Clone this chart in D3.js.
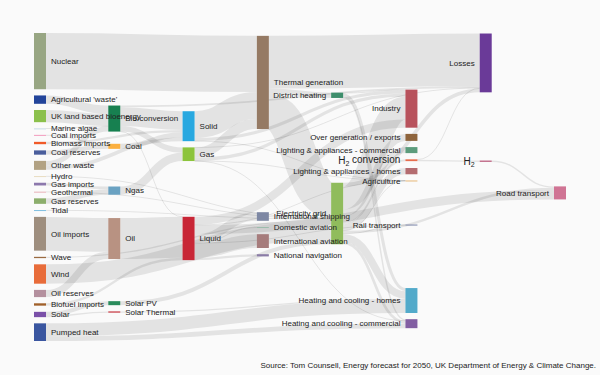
<!DOCTYPE html>
<html>
<head>
<meta charset="utf-8">
<script src="https://cdn.jsdelivr.net/npm/d3@7"></script>
<style>
  body { margin: 0; background: #fafafa; }
  text { font-family: "Liberation Sans", Arial, sans-serif; fill: #222; }
</style>
</head>
<body>
<div id="chart"></div>
<script>
// Nodes
const nodeNames = [
  "Agricultural 'waste'", "Bio-conversion", "Liquid", "Losses", "Solid", "Gas",
  "Biofuel imports", "Biomass imports", "Coal imports", "Coal", "Coal reserves",
  "District heating", "Industry", "Heating and cooling - commercial",
  "Heating and cooling - homes", "Electricity grid", "Over generation / exports",
  "H2 conversion", "Road transport", "Agriculture", "Rail transport",
  "Lighting & appliances - commercial", "Lighting & appliances - homes",
  "Gas imports", "Ngas", "Gas reserves", "Thermal generation", "Geothermal", "H2",
  "Hydro", "International shipping", "Domestic aviation", "International aviation",
  "National navigation", "Marine algae", "Nuclear", "Oil imports", "Oil", "Oil reserves",
  "Other waste", "Pumped heat", "Solar PV", "Solar Thermal", "Solar", "Tidal",
  "UK land based bioenergy", "Wave", "Wind"
];

// Flows: [source, target, value]
const flows = [
  ["Agricultural 'waste'", "Bio-conversion", 124.729],
  ["Bio-conversion", "Liquid", 0.597],
  ["Bio-conversion", "Losses", 26.862],
  ["Bio-conversion", "Solid", 280.322],
  ["Bio-conversion", "Gas", 81.144],
  ["Biofuel imports", "Liquid", 35],
  ["Biomass imports", "Solid", 35],
  ["Coal imports", "Coal", 11.606],
  ["Coal reserves", "Coal", 63.965],
  ["Coal", "Solid", 75.571],
  ["District heating", "Industry", 10.639],
  ["District heating", "Heating and cooling - commercial", 22.505],
  ["District heating", "Heating and cooling - homes", 46.184],
  ["Electricity grid", "Over generation / exports", 104.453],
  ["Electricity grid", "Heating and cooling - homes", 113.726],
  ["Electricity grid", "H2 conversion", 27.14],
  ["Electricity grid", "Industry", 342.165],
  ["Electricity grid", "Road transport", 37.797],
  ["Electricity grid", "Agriculture", 4.412],
  ["Electricity grid", "Heating and cooling - commercial", 40.858],
  ["Electricity grid", "Losses", 56.691],
  ["Electricity grid", "Rail transport", 7.863],
  ["Electricity grid", "Lighting & appliances - commercial", 90.008],
  ["Electricity grid", "Lighting & appliances - homes", 93.494],
  ["Gas imports", "Ngas", 40.719],
  ["Gas reserves", "Ngas", 82.233],
  ["Gas", "Heating and cooling - commercial", 0.129],
  ["Gas", "Losses", 1.401],
  ["Gas", "Thermal generation", 151.891],
  ["Gas", "Agriculture", 2.096],
  ["Gas", "Industry", 48.58],
  ["Geothermal", "Electricity grid", 7.013],
  ["H2 conversion", "H2", 20.897],
  ["H2 conversion", "Losses", 6.242],
  ["H2", "Road transport", 20.897],
  ["Hydro", "Electricity grid", 6.995],
  ["Liquid", "Industry", 121.066],
  ["Liquid", "International shipping", 128.69],
  ["Liquid", "Road transport", 135.835],
  ["Liquid", "Domestic aviation", 14.458],
  ["Liquid", "International aviation", 206.267],
  ["Liquid", "Agriculture", 3.64],
  ["Liquid", "National navigation", 33.218],
  ["Liquid", "Rail transport", 4.413],
  ["Marine algae", "Bio-conversion", 4.375],
  ["Ngas", "Gas", 122.952],
  ["Nuclear", "Thermal generation", 839.978],
  ["Oil imports", "Oil", 504.287],
  ["Oil reserves", "Oil", 107.703],
  ["Oil", "Liquid", 611.99],
  ["Other waste", "Solid", 56.587],
  ["Other waste", "Bio-conversion", 77.81],
  ["Pumped heat", "Heating and cooling - homes", 193.026],
  ["Pumped heat", "Heating and cooling - commercial", 70.672],
  ["Solar PV", "Electricity grid", 59.901],
  ["Solar Thermal", "Heating and cooling - homes", 19.263],
  ["Solar", "Solar Thermal", 19.263],
  ["Solar", "Solar PV", 59.901],
  ["Solid", "Agriculture", 0.882],
  ["Solid", "Thermal generation", 400.12],
  ["Solid", "Industry", 46.477],
  ["Thermal generation", "Electricity grid", 525.531],
  ["Thermal generation", "Losses", 787.129],
  ["Thermal generation", "District heating", 79.329],
  ["Tidal", "Electricity grid", 9.452],
  ["UK land based bioenergy", "Bio-conversion", 182.01],
  ["Wave", "Electricity grid", 19.013],
  ["Wind", "Electricity grid", 289.366]
];

const sourceNote = "Source: Tom Counsell, Energy forecast for 2050, UK Department of Energy & Climate Change.";

// node colours
const nodeColors = {
  "Nuclear": "#98a683", "Agricultural 'waste'": "#22449a", "UK land based bioenergy": "#8bc04c",
  "Other waste": "#b2a283", "Coal imports": "#f29bbd", "Tidal": "#7fbfe0",
  "Biomass imports": "#f05a28", "Marine algae": "#c8dce8", "Coal reserves": "#4a5e9c",
  "Geothermal": "#e8b0b8", "Gas imports": "#8c78ac", "Hydro": "#e8dcc0",
  "Gas reserves": "#8cae6c", "Wave": "#9a6a40", "Oil imports": "#9e8e7e", "Wind": "#e86c3a",
  "Oil reserves": "#b4909e", "Biofuel imports": "#a0602a", "Solar": "#7a50a8",
  "Pumped heat": "#3a56a0",
  "Bio-conversion": "#178050", "Coal": "#fbb040", "Ngas": "#6aa2c2", "Oil": "#b89282",
  "Solar PV": "#2a8c5c", "Solar Thermal": "#c8404a",
  "Solid": "#28a8e0", "Gas": "#8cc43c", "Liquid": "#c82636",
  "Thermal generation": "#957a64", "International shipping": "#7e88a4",
  "Domestic aviation": "#9cbcac", "International aviation": "#a67c7c",
  "National navigation": "#8a7ca6",
  "District heating": "#3e8e6c", "Electricity grid": "#90bc5c",
  "Industry": "#b8525c", "Over generation / exports": "#8e643c",
  "Lighting & appliances - commercial": "#5c9c7c", "Lighting & appliances - homes": "#b46c70",
  "H2 conversion": "#e66e4e", "Agriculture": "#e6b878", "Rail transport": "#7a84a8",
  "Heating and cooling - homes": "#52aaca", "Heating and cooling - commercial": "#825ea2",
  "Losses": "#6a3a98", "H2": "#c06a88",
  "Road transport": "#d07494"
};

let width = 600, height = 375;
let extent = {x0: 34, y0: 33, x1: 566, y1: 341},
    nodeWidth = 12,
    nodePadding = 6.2,
    iterations = 6;

// ---- small sankey layout (left aligned, nodes sorted by breadth) ----
function layout(names, flows) {
  let nodes = names.map(function (n, i) {
    return {name: n, index: i, sourceLinks: [], targetLinks: []};
  });
  let byName = new Map(nodes.map(d => [d.name, d]));
  let links = flows.map(function (f, i) {
    let l = {source: byName.get(f[0]), target: byName.get(f[1]), value: f[2], index: i};
    l.source.sourceLinks.push(l);
    l.target.targetLinks.push(l);
    return l;
  });

  nodes.forEach(function (n) {
    n.value = Math.max(d3.sum(n.sourceLinks, d => d.value), d3.sum(n.targetLinks, d => d.value));
  });

  // depths
  let current = new Set(nodes), next = new Set(), x = 0;
  while (current.size) {
    current.forEach(function (n) {
      n.depth = x;
      n.sourceLinks.forEach(l => next.add(l.target));
    });
    x++;
    current = next;
    next = new Set();
  }

  let nCols = d3.max(nodes, d => d.depth) + 1;
  let xScale = d3.scaleLinear().domain([0, nCols - 1]).range([extent.x0, extent.x1 - nodeWidth]);
  let columns = d3.range(nCols).map(() => []);
  nodes.forEach(function (n) {
    n.layer = n.depth;
    n.x0 = xScale(n.layer);
    n.x1 = n.x0 + nodeWidth;
    columns[n.layer].push(n);
  });

  let py = Math.min(nodePadding, (extent.y1 - extent.y0) / (d3.max(columns, c => c.length) - 1));
  let ky = d3.min(columns, c => (extent.y1 - extent.y0 - (c.length - 1) * py) / d3.sum(c, d => d.value));

  let byY = (a, b) => a.y0 - b.y0;
  let byTarget = (a, b) => byY(a.target, b.target) || a.index - b.index;
  let bySource = (a, b) => byY(a.source, b.source) || a.index - b.index;

  function reorderNode(n) {
    n.targetLinks.forEach(l => l.source.sourceLinks.sort(byTarget));
    n.sourceLinks.forEach(l => l.target.targetLinks.sort(bySource));
  }

  columns.forEach(function (col) {
    let y = extent.y0;
    col.forEach(function (n) {
      n.y0 = y;
      n.y1 = y + n.value * ky;
      y = n.y1 + py;
      n.sourceLinks.forEach(l => l.width = l.value * ky);
    });
    let extra = (extent.y1 - y + py) / (col.length + 1);
    col.forEach(function (n, i) {
      n.y0 += extra * (i + 1);
      n.y1 += extra * (i + 1);
    });
    col.forEach(function (n) {
      n.sourceLinks.sort(byTarget);
      n.targetLinks.sort(bySource);
    });
  });

  function targetTop(s, t) {
    let y = s.y0 - (s.sourceLinks.length - 1) * py / 2;
    for (const l of s.sourceLinks) { if (l.target === t) break; y += l.width + py; }
    for (const l of t.targetLinks) { if (l.source === s) break; y -= l.width; }
    return y;
  }
  function sourceTop(s, t) {
    let y = t.y0 - (t.targetLinks.length - 1) * py / 2;
    for (const l of t.targetLinks) { if (l.source === s) break; y += l.width + py; }
    for (const l of s.sourceLinks) { if (l.target === t) break; y -= l.width; }
    return y;
  }

  function pushDown(col, y, i, a) {
    for (; i < col.length; ++i) {
      let n = col[i], dy = (y - n.y0) * a;
      if (dy > 1e-6) { n.y0 += dy; n.y1 += dy; }
      y = n.y1 + py;
    }
  }
  function pushUp(col, y, i, a) {
    for (; i >= 0; --i) {
      let n = col[i], dy = (n.y1 - y) * a;
      if (dy > 1e-6) { n.y0 -= dy; n.y1 -= dy; }
      y = n.y0 - py;
    }
  }
  function resolve(col, a) {
    col.sort(byY);
    let i = col.length >> 1, s = col[i];
    pushUp(col, s.y0 - py, i - 1, a);
    pushDown(col, s.y1 + py, i + 1, a);
    pushUp(col, extent.y1, col.length - 1, a);
    pushDown(col, extent.y0, 0, a);
  }

  for (let it = 0; it < iterations; ++it) {
    let alpha = Math.pow(0.99, it);
    let beta = Math.max(1 - alpha, (it + 1) / iterations);
    // right to left
    for (let i = nCols - 2; i >= 0; --i) {
      columns[i].forEach(function (s) {
        let y = 0, w = 0;
        s.sourceLinks.forEach(function (l) {
          let v = l.value * (l.target.layer - s.layer);
          y += sourceTop(s, l.target) * v;
          w += v;
        });
        if (!(w > 0)) return;
        let dy = (y / w - s.y0) * alpha;
        s.y0 += dy; s.y1 += dy;
        reorderNode(s);
      });
      resolve(columns[i], beta);
    }
    // left to right
    for (let i = 1; i < nCols; ++i) {
      columns[i].forEach(function (t) {
        let y = 0, w = 0;
        t.targetLinks.forEach(function (l) {
          let v = l.value * (t.layer - l.source.layer);
          y += targetTop(l.source, t) * v;
          w += v;
        });
        if (!(w > 0)) return;
        let dy = (y / w - t.y0) * alpha;
        t.y0 += dy; t.y1 += dy;
        reorderNode(t);
      });
      resolve(columns[i], beta);
    }
  }

  nodes.forEach(function (n) {
    let a = n.y0, b = n.y0;
    n.sourceLinks.forEach(function (l) { l.y0 = a + l.width / 2; a += l.width; });
    n.targetLinks.forEach(function (l) { l.y1 = b + l.width / 2; b += l.width; });
  });

  return {nodes: nodes, links: links};
}

let graph = layout(nodeNames, flows);

let svg = d3.select("#chart").append("svg")
    .attr("width", width)
    .attr("height", height);

svg.append("rect")
    .attr("width", width)
    .attr("height", height)
    .attr("fill", "#fafafa");

let linkPath = d3.linkHorizontal()
    .source(d => [d.source.x1, d.y0])
    .target(d => [d.target.x0, d.y1]);

// Draw the links
svg.append("g")
    .attr("fill", "none")
    .attr("stroke", "#000")
    .attr("stroke-opacity", 0.09)
    .selectAll("path")
    .data(graph.links)
    .enter().append("path")
    .attr("d", linkPath)
    .attr("stroke-width", d => Math.max(1, d.width));

// Draw the nodes
svg.append("g")
    .selectAll("rect")
    .data(graph.nodes)
    .enter().append("rect")
    .attr("x", d => d.x0)
    .attr("y", d => d.y0)
    .attr("width", d => d.x1 - d.x0)
    .attr("height", d => Math.max(1, d.y1 - d.y0))
    .attr("fill", d => nodeColors[d.name]);

// Labels
let labels = svg.append("g")
    .selectAll("text")
    .data(graph.nodes)
    .enter().append("text")
    .attr("x", d => d.x0 < width / 2 ? d.x1 + 5 : d.x0 - 5)
    .attr("y", d => (d.y0 + d.y1) / 2)
    .attr("dy", "0.35em")
    .attr("text-anchor", d => d.x0 < width / 2 ? "start" : "end")
    .attr("font-size", d => d.name.indexOf("H2") === 0 ? 10 : 8);

labels.each(function (d) {
  let t = d3.select(this);
  if (d.name.indexOf("H2") === 0) {
    t.append("tspan").text("H");
    t.append("tspan").attr("font-size", 7).attr("dy", "0.3em").text("2");
    t.append("tspan").attr("dy", "-0.3em").text(d.name.slice(2));
  } else {
    t.text(d.name);
  }
});

svg.append("text")
    .attr("x", 596)
    .attr("y", 368)
    .attr("text-anchor", "end")
    .attr("font-size", 8)
    .text(sourceNote);
</script>
</body>
</html>
